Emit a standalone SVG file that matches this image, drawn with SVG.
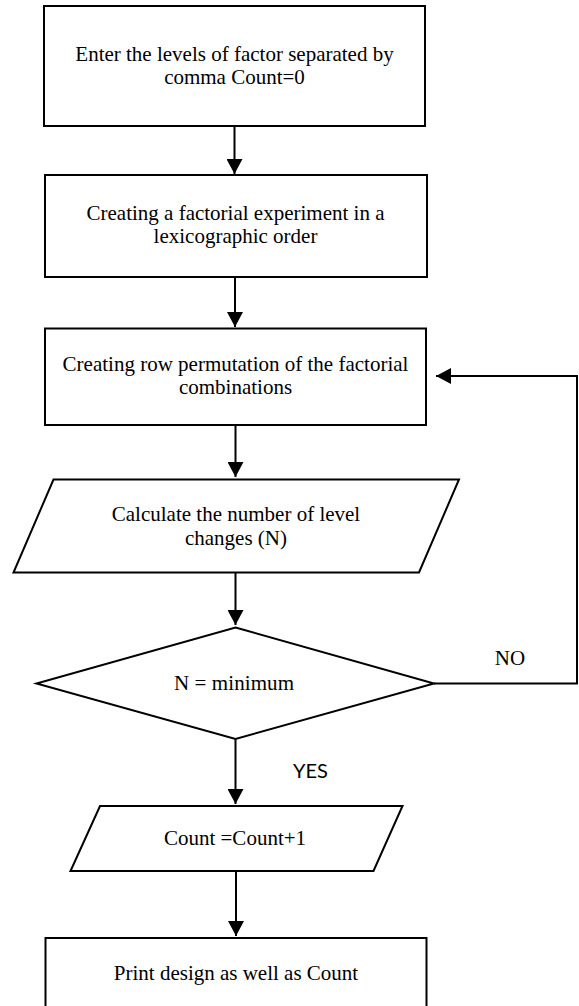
<svg xmlns="http://www.w3.org/2000/svg" width="579" height="1006" viewBox="0 0 579 1006">
<style>
  .shape { fill: #ffffff; stroke: #000000; stroke-width: 2; }
  .conn { fill: none; stroke: #000000; stroke-width: 2; }
  .t { font-family: "Liberation Serif", "Times New Roman", serif; font-size: 21px; fill: #000000; text-anchor: middle; }
  .s { font-family: Lato, "Liberation Sans", sans-serif; font-size: 20px; fill: #000000; }
</style>
<defs>
  <marker id="arrow" markerWidth="16" markerHeight="16" viewBox="0 0 16 16" refX="15" refY="8" orient="auto" markerUnits="userSpaceOnUse">
    <path d="M0,0 L15,8 L0,16 Z" fill="#000000"/>
  </marker>
</defs>
<rect x="0" y="0" width="579" height="1006" fill="#ffffff"/>

<g id="connectors">
  <line class="conn" x1="234.5" y1="126" x2="234.5" y2="174" marker-end="url(#arrow)"/>
  <line class="conn" x1="235" y1="277" x2="235" y2="327" marker-end="url(#arrow)"/>
  <line class="conn" x1="235.5" y1="425" x2="235.5" y2="477" marker-end="url(#arrow)"/>
  <line class="conn" x1="235.5" y1="572" x2="235.5" y2="625" marker-end="url(#arrow)"/>
  <line class="conn" x1="235.5" y1="739" x2="235.5" y2="804" marker-end="url(#arrow)"/>
  <line class="conn" x1="236" y1="871" x2="236" y2="936" marker-end="url(#arrow)"/>
  <polyline class="conn" points="434,683.5 577,683.5 577,376 436,376" marker-end="url(#arrow)"/>
  <text class="t" x="510" y="665">NO</text>
  <text class="s" x="293" y="778">YES</text>
</g>

<g id="node-enter">
  <rect class="shape" x="44" y="6" width="381" height="120"/>
  <text class="t" x="234.5" y="61">Enter the levels of factor separated by</text>
  <text class="t" x="234.5" y="84">comma Count=0</text>
</g>

<g id="node-factorial">
  <rect class="shape" x="45" y="175" width="382" height="102"/>
  <text class="t" x="235.5" y="220">Creating a factorial experiment in a</text>
  <text class="t" x="235.5" y="243">lexicographic order</text>
</g>

<g id="node-permutation">
  <rect class="shape" x="45" y="328.5" width="381" height="96.5"/>
  <text class="t" x="235.5" y="371">Creating row permutation of the factorial</text>
  <text class="t" x="235.5" y="394">combinations</text>
</g>

<g id="node-calculate">
  <polygon class="shape" points="53.5,479.5 459,479.5 419,572.5 13.5,572.5"/>
  <text class="t" x="236" y="521">Calculate the number of level</text>
  <text class="t" x="236" y="545">changes (N)</text>
</g>

<g id="node-decision">
  <polygon class="shape" points="235.5,627.5 434,683.5 235.5,739 36.5,683.5"/>
  <text class="t" x="234" y="689.5" textLength="120" lengthAdjust="spacing">N = minimum</text>
</g>

<g id="node-count">
  <polygon class="shape" points="100,806 402.5,806 373.5,871 70.5,871"/>
  <text class="t" x="235" y="844.5">Count =Count+1</text>
</g>

<g id="node-print">
  <rect class="shape" x="45.5" y="938" width="381" height="80"/>
  <text class="t" x="236" y="979.5">Print design as well as Count</text>
</g>
</svg>
